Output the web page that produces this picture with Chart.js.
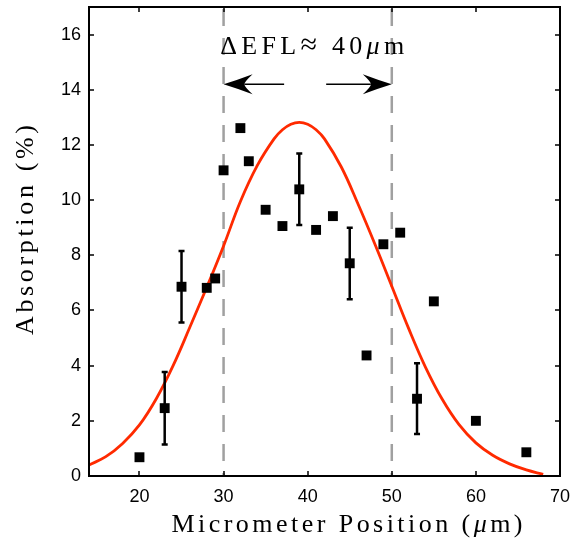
<!DOCTYPE html>
<html>
<head>
<meta charset="utf-8">
<script src="https://cdn.jsdelivr.net/npm/chart.js@4.4.0/dist/chart.umd.min.js"></script>
<style>
  html, body { margin: 0; padding: 0; background: #fff; }
  #wrap { width: 573px; height: 549px; }
</style>
</head>
<body>
<div id="wrap"><canvas id="chart" width="573" height="549"></canvas></div>
<script>
// measured absorption vs micrometer position
var posX = [20, 23, 25, 28, 29, 30, 32, 33, 35, 37, 39, 41, 43, 45, 47, 49, 51, 53, 55, 60, 66];
var absY = [0.68, 2.46, 6.86, 6.82, 7.16, 11.08, 12.61, 11.41, 9.65, 9.06, 10.39, 8.92, 9.42, 7.71, 4.37, 8.40, 8.82, 2.80, 6.33, 2.00, 0.86];

// error bars (only some points have them)
var errX = [23, 25, 39, 45, 53];
var errLow = [1.14, 5.56, 9.10, 6.41, 1.52];
var errHigh = [3.77, 8.16, 11.69, 9.00, 4.09];

// red fit curve
var fitX = [14, 16, 18, 20, 22, 24, 26, 28, 30, 32, 34, 36, 37, 38, 39, 40, 41, 42, 44, 46, 48, 50, 52, 54, 56, 58, 60, 62, 64, 66, 68];
var fitY = [0.40, 0.70, 1.18, 1.85, 2.80, 4.00, 5.40, 6.84, 8.34, 9.95, 11.25, 12.22, 12.55, 12.75, 12.82, 12.75, 12.55, 12.22, 11.20, 9.85, 8.40, 6.88, 5.35, 3.95, 2.78, 1.86, 1.20, 0.75, 0.44, 0.22, 0.06];

// axis ticks
var xTicks = [20, 30, 40, 50, 60, 70];
var yTicks = [0, 2, 4, 6, 8, 10, 12, 14, 16];

// EFL range markers
var eflLines = [30, 50];
var arrowY = 14.2;
var arrowLeft = [37.2, 30];   // tail, tip
var arrowRight = [42.2, 50];
var eflText = { x: 29.6, y: 15.28 };

var serif = '"Liberation Serif", "Times New Roman", serif';

// draws text pieces char by char so the spacing can be stretched to a width
function drawSpaced(ctx, parts, x, y, width, center) {
  var chars = [];
  parts.forEach(function(p) {
    ctx.font = p.font;
    Array.from(p.t).forEach(function(c) { chars.push({ c: c, font: p.font, w: ctx.measureText(c).width }); });
  });
  var raw = chars.reduce(function(s, c) { return s + c.w; }, 0);
  var gap = (width - raw) / (chars.length - 1);
  var cx = center ? x - width / 2 : x;
  chars.forEach(function(c) {
    ctx.font = c.font;
    ctx.fillText(c.c, cx, y);
    cx += c.w + gap;
  });
}

function drawArrow(ctx, x0, x1, y) {
  var dir = x1 > x0 ? 1 : -1;
  var len = 29, half = 10, notch = 21;
  ctx.beginPath();
  ctx.moveTo(x0, y);
  ctx.lineTo(x1 - dir * notch, y);
  ctx.stroke();
  ctx.beginPath();
  ctx.moveTo(x1, y);
  ctx.quadraticCurveTo(x1 - dir * len * 0.5, y - half * 0.45, x1 - dir * len, y - half);
  ctx.quadraticCurveTo(x1 - dir * notch * 0.97, y - 2, x1 - dir * notch, y);
  ctx.quadraticCurveTo(x1 - dir * notch * 0.97, y + 2, x1 - dir * len, y + half);
  ctx.quadraticCurveTo(x1 - dir * len * 0.5, y + half * 0.45, x1, y);
  ctx.closePath();
  ctx.fill();
}

var decor = {
  id: 'decor',
  beforeDatasetsDraw: function(chart) {
    var ctx = chart.ctx, xs = chart.scales.x, a = chart.chartArea;
    ctx.save();
    ctx.strokeStyle = '#a0a0a0';
    ctx.lineWidth = 2.5;
    ctx.setLineDash([17, 12]);
    eflLines.forEach(function(v) {
      var px = xs.getPixelForValue(v);
      ctx.beginPath();
      ctx.moveTo(px, a.top + 2);
      ctx.lineTo(px, a.bottom);
      ctx.stroke();
    });
    ctx.restore();
  },
  afterDatasetsDraw: function(chart) {
    var ctx = chart.ctx, xs = chart.scales.x, ys = chart.scales.y, a = chart.chartArea;
    ctx.save();

    // error bars
    ctx.strokeStyle = '#000';
    ctx.lineWidth = 2.5;
    errX.forEach(function(v, i) {
      var px = xs.getPixelForValue(v);
      var lo = ys.getPixelForValue(errLow[i]), hi = ys.getPixelForValue(errHigh[i]);
      ctx.beginPath();
      ctx.moveTo(px, lo); ctx.lineTo(px, hi);
      ctx.moveTo(px - 3, lo); ctx.lineTo(px + 3, lo);
      ctx.moveTo(px - 3, hi); ctx.lineTo(px + 3, hi);
      ctx.stroke();
    });

    // arrows
    var ay = ys.getPixelForValue(arrowY);
    ctx.lineWidth = 1.5;
    ctx.fillStyle = '#000';
    drawArrow(ctx, xs.getPixelForValue(arrowLeft[0]), xs.getPixelForValue(arrowLeft[1]), ay);
    drawArrow(ctx, xs.getPixelForValue(arrowRight[0]), xs.getPixelForValue(arrowRight[1]), ay);

    // label over the arrows
    ctx.fillStyle = '#000';
    ctx.textBaseline = 'alphabetic';
    ctx.textAlign = 'left';
    drawSpaced(ctx, [
      { t: '\u0394EFL', font: '26px ' + serif },
      { t: '\u2248', font: '30px ' + serif },
      { t: ' 40', font: '26px ' + serif },
      { t: '\u03bc', font: 'italic 26px ' + serif },
      { t: 'm', font: '26px ' + serif }
    ], xs.getPixelForValue(eflText.x), ys.getPixelForValue(eflText.y), 184, false);

    // box and inward ticks on all sides
    ctx.lineWidth = 2;
    ctx.strokeStyle = '#000';
    ctx.strokeRect(a.left, a.top, a.right - a.left, a.bottom - a.top);
    ctx.lineWidth = 1.5;
    ctx.beginPath();
    xTicks.forEach(function(v) {
      var px = Math.round(xs.getPixelForValue(v));
      ctx.moveTo(px, a.bottom); ctx.lineTo(px, a.bottom - 5);
      ctx.moveTo(px, a.top); ctx.lineTo(px, a.top + 5);
    });
    yTicks.forEach(function(v) {
      var py = Math.round(ys.getPixelForValue(v));
      ctx.moveTo(a.left, py); ctx.lineTo(a.left + 5, py);
      ctx.moveTo(a.right, py); ctx.lineTo(a.right - 5, py);
    });
    ctx.stroke();

    // axis titles
    ctx.textBaseline = 'middle';
    drawSpaced(ctx, [
      { t: 'Micrometer Position (', font: '26px ' + serif },
      { t: '\u03bc', font: 'italic 26px ' + serif },
      { t: 'm)', font: '26px ' + serif }
    ], 347, 525, 351, true);
    ctx.translate(26, 230);
    ctx.rotate(-Math.PI / 2);
    drawSpaced(ctx, [{ t: 'Absorption (%)', font: '26px ' + serif }], 0, 0, 210, true);
    ctx.restore();
  }
};

var ctx = document.getElementById('chart').getContext('2d');
var chart = new Chart(ctx, {
  type: 'scatter',
  data: {
    datasets: [
      {
        label: 'data',
        data: posX.map(function(x, i) { return { x: x, y: absY[i] }; }),
        pointStyle: 'rect',
        pointRadius: 7,
        backgroundColor: '#000',
        borderWidth: 0,
        order: 0
      },
      {
        label: 'fit',
        type: 'line',
        data: fitX.map(function(x, i) { return { x: x, y: fitY[i] }; }),
        borderColor: '#ff2a00',
        borderWidth: 2.8,
        pointRadius: 0,
        fill: false,
        tension: 0.4,
        order: 1
      }
    ]
  },
  options: {
    responsive: false,
    animation: false,
    devicePixelRatio: 1,
    layout: { padding: { top: 5, right: 13, left: 0, bottom: 0 } },
    plugins: { legend: { display: false }, tooltip: { enabled: false } },
    scales: {
      x: {
        type: 'linear',
        min: 14,
        max: 70,
        grid: { display: false, drawTicks: false },
        border: { display: false },
        afterBuildTicks: function(s) { s.ticks = xTicks.map(function(v) { return { value: v }; }); },
        afterFit: function(s) { s.height = 73; s.paddingLeft = 0; s.paddingRight = 0; },
        ticks: {
          padding: 10,
          color: '#000',
          font: { family: '"Liberation Sans", Arial, sans-serif', size: 18 }
        }
      },
      y: {
        min: 0,
        max: 17,
        grid: { display: false, drawTicks: false },
        border: { display: false },
        afterBuildTicks: function(s) { s.ticks = yTicks.map(function(v) { return { value: v }; }); },
        afterFit: function(s) { s.width = 89; s.paddingTop = 0; s.paddingBottom = 0; },
        ticks: {
          padding: 8,
          color: '#000',
          font: { family: '"Liberation Sans", Arial, sans-serif', size: 18 }
        }
      }
    }
  },
  plugins: [decor]
});
</script>
</body>
</html>
